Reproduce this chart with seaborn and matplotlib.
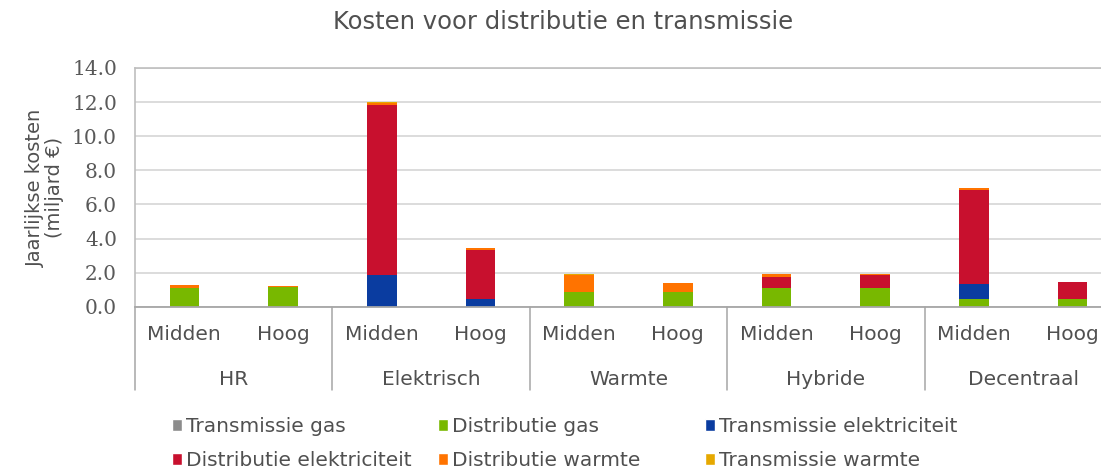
import numpy as np
import pandas as pd
import matplotlib
matplotlib.use('Agg')
import matplotlib.pyplot as plt
import matplotlib.transforms as mtransforms
from matplotlib.patches import Patch
import seaborn as sns

groups = ['HR', 'Elektrisch', 'Warmte', 'Hybride', 'Decentraal']
levels = ['Midden', 'Hoog']
series = ['Transmissie gas', 'Distributie gas', 'Transmissie elektriciteit',
          'Distributie elektriciteit', 'Distributie warmte', 'Transmissie warmte']
colors = ['#8c8c8c', '#78b800', '#0a3ca0', '#c8102e', '#ff7300', '#e6a800']

trans_gas = [0, 0, 0, 0, 0, 0, 0, 0, 0, 0]
dist_gas = [1.12, 1.15, 0, 0, 0.87, 0.87, 1.10, 1.10, 0.45, 0.45]
trans_elec = [0, 0, 1.88, 0.45, 0, 0, 0, 0, 0.87, 0]
dist_elec = [0, 0, 9.95, 2.88, 0, 0, 0.64, 0.74, 5.54, 1.00]
dist_warm = [0.16, 0.04, 0.14, 0.10, 1.01, 0.53, 0.18, 0.08, 0.10, 0.03]
trans_warm = [0.02, 0, 0.03, 0.02, 0.05, 0, 0.02, 0.02, 0.02, 0]

sns.set_style('white')
plt.rcParams['font.family'] = ['DejaVu Sans']
txt = '#505050'

bars = [f'{g} {l}' for g in groups for l in levels]
df = pd.DataFrame({'bar': bars, 'Transmissie gas': trans_gas, 'Distributie gas': dist_gas,
                   'Transmissie elektriciteit': trans_elec, 'Distributie elektriciteit': dist_elec,
                   'Distributie warmte': dist_warm, 'Transmissie warmte': trans_warm})
cum = df[series].cumsum(axis=1)

fig = plt.figure(figsize=(11.01, 4.72), dpi=100)
ax = fig.add_axes([0.1226, 0.350, 0.8965, 0.506])

# stacked look: draw cumulative totals from top series down
for name, col in reversed(list(zip(series, colors))):
    sns.barplot(x=df['bar'], y=cum[name], color=col, width=0.3, ax=ax,
                saturation=1, linewidth=0, order=bars)

ax.set_xlim(-0.5, len(bars) - 0.5)
ax.set_ylim(0, 14)
ax.set_yticks(np.arange(0, 14.1, 2))
ax.set_yticklabels([f'{v:.1f}' for v in np.arange(0, 14.1, 2)],
                   fontfamily='DejaVu Serif', fontsize=14.5, color='#595959')
ax.yaxis.grid(True, color='#d9d9d9', linewidth=1.3)
ax.set_axisbelow(True)
ax.tick_params(axis='y', length=4, color='#bfbfbf', pad=9)
ax.set_xticks(range(len(bars)))
ax.set_xticklabels([l for g in groups for l in levels], fontsize=14.5, color=txt)
ax.tick_params(axis='x', length=0, pad=13)
ax.set_xlabel('')
ax.set_ylabel('Jaarlijkse kosten\n(miljard €)', fontsize=14, color=txt,
              labelpad=6, linespacing=0.95)
for s in ['top', 'left', 'right']:
    ax.spines[s].set_color('#bfbfbf')
    ax.spines[s].set_linewidth(1.2)
ax.spines['bottom'].set_color('#a6a6a6')
ax.spines['bottom'].set_linewidth(1.3)

trans = mtransforms.blended_transform_factory(ax.transData, ax.transAxes)
for i, g in enumerate(groups):
    ax.text(2 * i + 0.5, -0.305, g, transform=trans, ha='center', va='center',
            fontsize=14.5, color=txt)
for i in range(len(groups) + 1):
    ax.plot([2 * i - 0.5, 2 * i - 0.5], [0, -0.35], transform=trans, color='#a6a6a6',
            linewidth=1.1, clip_on=False)

fig.text(0.511, 0.953, 'Kosten voor distributie en transmissie', ha='center', va='center',
         fontsize=17.5, color=txt)

handles = [Patch(facecolor=c, label=s) for s, c in zip(series, colors)]
col_x = [172 / 1101, 438 / 1101, 705 / 1101]
for j in range(3):
    idx = [j, j + 3]
    fig.legend([handles[i] for i in idx], [series[i] for i in idx],
               loc='center left', bbox_to_anchor=(col_x[j], 0.060), frameon=False,
               fontsize=14.5, handlelength=0.5, handleheight=0.5, handletextpad=0.2,
               labelspacing=0.75, borderpad=0, borderaxespad=0, labelcolor=txt)

fig.savefig('out.png', dpi=100)
